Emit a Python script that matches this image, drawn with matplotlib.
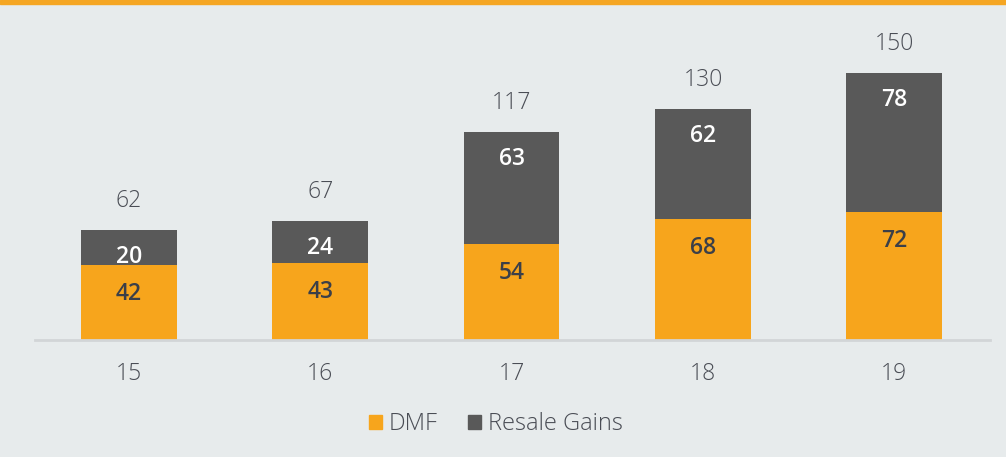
import matplotlib
matplotlib.use("Agg")
import matplotlib.pyplot as plt
from matplotlib.patches import Patch, Rectangle

years = ["15", "16", "17", "18", "19"]
dmf = [42, 43, 54, 68, 72]
resale = [20, 24, 63, 62, 78]
totals = [62, 67, 117, 130, 150]

ORANGE = "#F7A51C"
DARK = "#595959"
BG = "#E7EBEC"
TXT = "#4A4D55"

plt.rcParams["font.family"] = ["Open Sans", "DejaVu Sans"]

fig = plt.figure(figsize=(10.06, 4.57), dpi=100, facecolor=BG)
ax = fig.add_axes([35/1006, (457-340)/457, (990-35)/1006, 303/457])
ax.set_facecolor(BG)

x = list(range(len(years)))
w = 0.5
ax.bar(x, dmf, width=w, color=ORANGE, zorder=2)
ax.bar(x, resale, width=w, bottom=dmf, color=DARK, zorder=2)

for i in x:
    ax.annotate(str(dmf[i]), (i, dmf[i]), xytext=(0, -29), textcoords="offset pixels",
                ha="center", va="center", fontsize=16.5, fontweight="semibold", color="#3B3F48")
    ax.annotate(str(resale[i]), (i, totals[i]), xytext=(0, -27), textcoords="offset pixels",
                ha="center", va="center", fontsize=16.5, fontweight="semibold", color="white")
    ax.annotate(str(totals[i]), (i, totals[i]), xytext=(0, 29), textcoords="offset pixels",
                ha="center", va="center", fontsize=16.5, fontweight="light", color=TXT)

ax.set_xlim(-0.49, 4.50)
ax.set_ylim(0, 170.2)
ax.set_xticks(x)
ax.set_xticklabels(years, fontsize=16.5, color=TXT, fontweight="light")
ax.tick_params(axis="x", length=0, pad=16)
ax.set_yticks([])
for s in ["top", "right", "left"]:
    ax.spines[s].set_visible(False)
ax.spines["bottom"].set_color("#D2D5D7")
ax.spines["bottom"].set_linewidth(2)

handles = [Patch(color=ORANGE, label="DMF"), Patch(color=DARK, label="Resale Gains")]
fig.legend(handles=handles, loc="center", bbox_to_anchor=(496/1006, (457-424)/457), ncol=2,
           frameon=False, prop={"size": 17, "weight": "light"}, handlelength=0.55, handleheight=0.55,
           handletextpad=0.3, columnspacing=1.3, labelcolor=TXT)

fig.patches.append(Rectangle((0, 1 - 4/457), 1, 4/457, transform=fig.transFigure,
                             color="#F5A623", zorder=5))

fig.savefig("out.png", dpi=100, facecolor=BG)
